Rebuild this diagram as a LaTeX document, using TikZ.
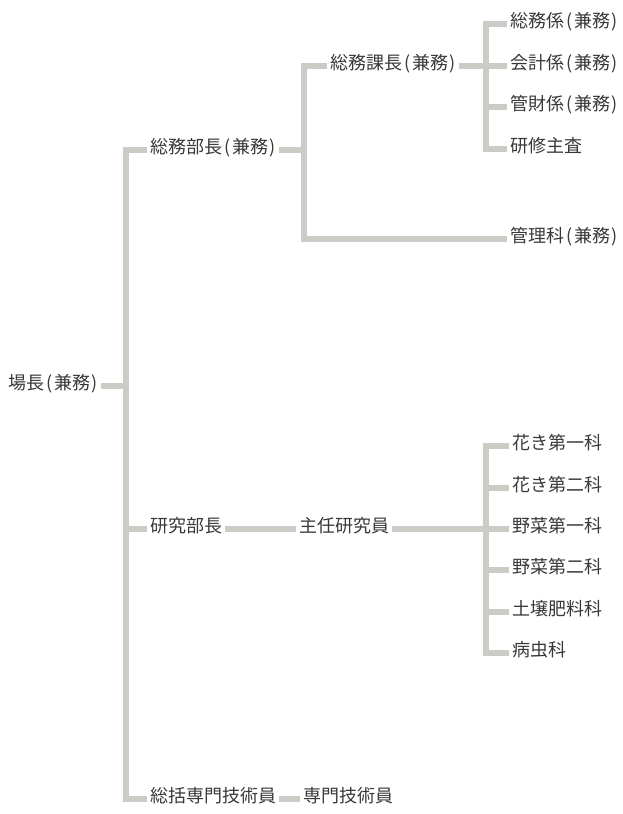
\documentclass[tikz,border=0pt]{standalone}
\usepackage{fontspec}
\newfontfamily\jp{Noto Sans CJK JP}
\definecolor{linegray}{rgb}{0.80,0.80,0.78}
\definecolor{txt}{rgb}{0.22,0.22,0.22}
\newcommand{\kenmu}{\kern2.5pt(\kern1.5pt兼務\kern1.5pt)}
\tikzset{
  lbl/.style={anchor=west,inner xsep=3pt,inner ysep=0pt,text height=0.76em,text depth=0pt,font=\jp\fontsize{18}{20}\selectfont,text=txt},
  conn/.style={draw=linegray,line width=6.5pt,line cap=butt,line join=miter}
}
\begin{document}
\begin{tikzpicture}[x=1pt,y=-1pt]
\useasboundingbox (0,0) rectangle (622,814);
% nodes
\node[lbl] (root) at (5,386) {場長\kenmu};
\node[lbl] (sb) at (147,150) {総務部長\kenmu};
\node[lbl] (kacho) at (327,66) {総務課長\kenmu};
\node[lbl] (c1) at (507,24) {総務係\kenmu};
\node[lbl] (c2) at (507,66) {会計係\kenmu};
\node[lbl] (c3) at (507,107) {管財係\kenmu};
\node[lbl] (c4) at (507,149) {研修主査};
\node[lbl] (kanri) at (507,239) {管理科\kenmu};
\node[lbl] (kb) at (147,529) {研究部長};
\node[lbl] (shunin) at (296,529) {主任研究員};
\node[lbl] (r1) at (509,446) {花き第一科};
\node[lbl] (r2) at (509,488) {花き第二科};
\node[lbl] (r3) at (509,529) {野菜第一科};
\node[lbl] (r4) at (509,570) {野菜第二科};
\node[lbl] (r5) at (509,612) {土壌肥料科};
\node[lbl] (r6) at (509,653) {病虫科};
\node[lbl] (st) at (147,799) {総括専門技術員};
\node[lbl] (sg) at (300,799) {専門技術員};
% bus coordinates
\coordinate (tTop) at (126,150);
\coordinate (tBot) at (126,799);
\coordinate (aTop) at (304,66);
\coordinate (aBot) at (304,239);
\coordinate (bTop) at (486,24);
\coordinate (bBot) at (486,149);
\coordinate (cTop) at (486,446);
\coordinate (cBot) at (486,653);
% connectors
\draw[conn] (root.east) -- (root.east -| tTop);
\draw[conn] (sb.west) -- (tTop) -- (tBot) -- (st.west);
\draw[conn] (kb.west) -- (kb.west -| tTop);
\draw[conn] (sb.east) -- (sb.east -| aTop);
\draw[conn] (kacho.west) -- (aTop) -- (aBot) -- (kanri.west);
\draw[conn] (kacho.east) -- (kacho.east -| bTop);
\draw[conn] (c1.west) -- (bTop) -- (bBot) -- (c4.west);
\draw[conn] (c2.west) -- (c2.west -| bTop);
\draw[conn] (c3.west) -- (c3.west -| bTop);
\draw[conn] (kb.east) -- (shunin.west);
\draw[conn] (shunin.east) -- (shunin.east -| cTop);
\draw[conn] (r1.west) -- (cTop) -- (cBot) -- (r6.west);
\draw[conn] (r2.west) -- (r2.west -| cTop);
\draw[conn] (r3.west) -- (r3.west -| cTop);
\draw[conn] (r4.west) -- (r4.west -| cTop);
\draw[conn] (r5.west) -- (r5.west -| cTop);
\draw[conn] (st.east) -- (sg.west);
\end{tikzpicture}
\end{document}
